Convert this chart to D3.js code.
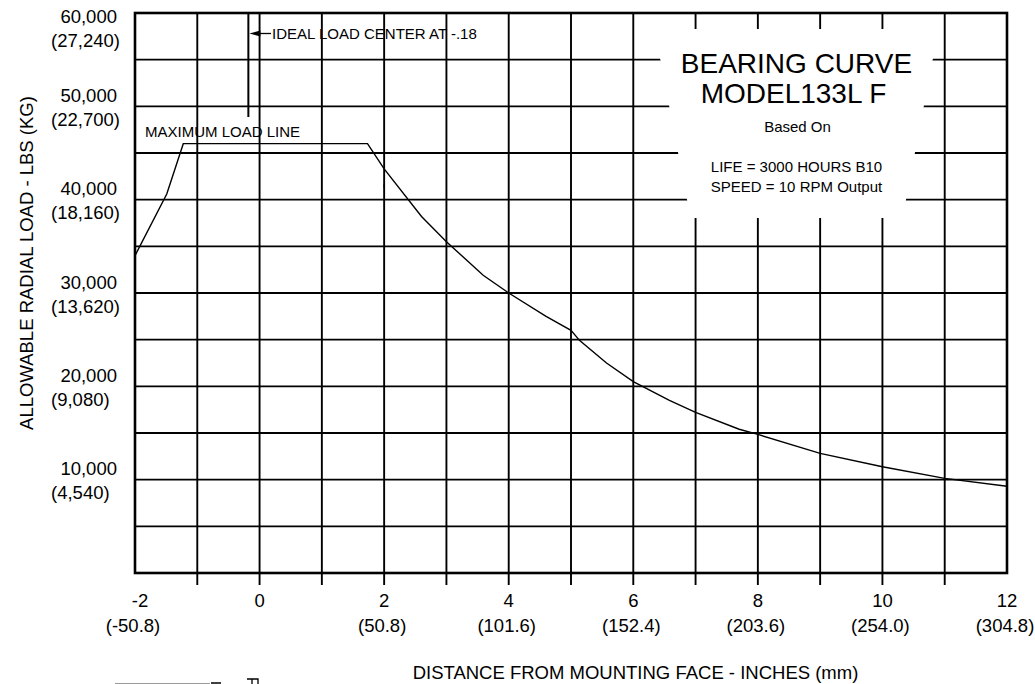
<!DOCTYPE html>
<html>
<head>
<meta charset="utf-8">
<script src="https://cdn.jsdelivr.net/npm/d3@7"></script>
<style>
  html, body { margin: 0; padding: 0; background: #fff; }
  svg { display: block; }
  text { font-family: "Liberation Sans", Arial, sans-serif; fill: #000; }
</style>
</head>
<body>
<svg id="chart" width="1035" height="684"></svg>
<script>
// ---------- data ----------
const curveX = [-2, -1.49, -1.225, 1.733, 2.0, 2.6, 3.0, 3.59, 4.0, 4.6, 5.0, 5.14, 5.57, 6.0, 6.58, 7.0, 7.7, 8.0, 9.0, 10.0, 11.0, 12.0];
const curveY = [34000, 40600, 46000, 46000, 43300, 38200, 35500, 31900, 30000, 27500, 26000, 24900, 22500, 20500, 18500, 17200, 15400, 14850, 12820, 11390, 10140, 9300];

const xGrid = [-1, 0, 1, 2, 3, 4, 5, 6, 7, 8, 9, 10, 11];
const xLabelValues = [-2, 0, 2, 4, 6, 8, 10, 12];
const xLabelText = ["-2", "0", "2", "4", "6", "8", "10", "12"];
const xMmText = ["(-50.8)", "", "(50.8)", "(101.6)", "(152.4)", "(203.6)", "(254.0)", "(304.8)"];

const yGrid = [5000, 10000, 15000, 20000, 25000, 30000, 35000, 40000, 45000, 50000, 55000];
const yLabelValues = [10000, 20000, 30000, 40000, 50000, 60000];
const yLabelText = ["10,000", "20,000", "30,000", "40,000", "50,000", "60,000"];
const yKgText = ["(4,540)", "(9,080)", "(13,620)", "(18,160)", "(22,700)", "(27,240)"];

const idealLoadCenter = -0.18;
const titleLines = ["BEARING CURVE", "MODEL133L F"];
const noteLines = ["Based On", "", "LIFE = 3000 HOURS B10", "SPEED = 10 RPM Output"];

// ---------- layout ----------
const L = 135, R = 1007, T = 13, B = 573;
const svg = d3.select("#chart");
const x = d3.scaleLinear().domain([-2, 12]).range([L, R]);
const y = d3.scaleLinear().domain([0, 60000]).range([B, T]);

// grid
const g = svg.append("g").attr("stroke", "#000").attr("stroke-width", 1.9);
g.selectAll("line.v").data(xGrid).join("line")
  .attr("x1", d => x(d)).attr("x2", d => x(d)).attr("y1", T).attr("y2", B + 12);
g.selectAll("line.h").data(yGrid).join("line")
  .attr("x1", L).attr("x2", R).attr("y1", d => y(d)).attr("y2", d => y(d));

// frame
svg.append("rect").attr("x", L).attr("y", T).attr("width", R - L).attr("height", B - T)
  .attr("fill", "none").attr("stroke", "#000").attr("stroke-width", 2.6);

// white title box (trapezoid) covering the grid
const cx = 796.5;
svg.append("polygon")
  .attr("points", [[cx - 142, 29], [cx + 142, 29], [cx + 106, 218], [cx - 106, 218]].map(p => p.join(",")).join(" "))
  .attr("fill", "#fff");

// title texts
svg.append("text").attr("x", cx).attr("y", 73).attr("text-anchor", "middle")
  .attr("font-size", 28).text(titleLines[0]);
svg.append("text").attr("x", cx - 3).attr("y", 103).attr("text-anchor", "middle")
  .attr("font-size", 28).text(titleLines[1]);
svg.append("text").attr("x", cx + 1).attr("y", 132).attr("text-anchor", "middle")
  .attr("font-size", 15).text(noteLines[0]);
svg.append("text").attr("x", cx).attr("y", 172).attr("text-anchor", "middle")
  .attr("font-size", 15).text(noteLines[2]);
svg.append("text").attr("x", cx).attr("y", 192).attr("text-anchor", "middle")
  .attr("font-size", 15).text(noteLines[3]);

// curve
const pts = curveX.map((v, i) => [v, curveY[i]]);
svg.append("path").datum(pts)
  .attr("d", d3.line().x(d => x(d[0])).y(d => y(d[1])))
  .attr("fill", "none").attr("stroke", "#000").attr("stroke-width", 1.4);

// small stray mark near the curve
svg.append("line").attr("x1", x(2.0)).attr("x2", x(2.0)).attr("y1", y(41700)).attr("y2", y(41250))
  .attr("stroke", "#000").attr("stroke-width", 1.2);

// ideal load center
const xi = x(idealLoadCenter);
svg.append("line").attr("x1", xi).attr("x2", xi).attr("y1", T).attr("y2", 117)
  .attr("stroke", "#000").attr("stroke-width", 2);
svg.append("line").attr("x1", xi + 6).attr("x2", 271).attr("y1", 33.5).attr("y2", 33.5)
  .attr("stroke", "#000").attr("stroke-width", 1.3);
svg.append("polygon")
  .attr("points", `${xi + 1},33.5 ${xi + 12},30.5 ${xi + 12},36.5`).attr("fill", "#000");
svg.append("text").attr("x", 272).attr("y", 39).attr("font-size", 15)
  .text("IDEAL LOAD CENTER AT -.18");

// maximum load line label
svg.append("text").attr("x", 145).attr("y", 136.5).attr("font-size", 15).text("MAXIMUM LOAD LINE");

// x tick labels
const xl = svg.append("g").attr("font-size", 18.5).attr("text-anchor", "middle");
xLabelValues.forEach((v, i) => {
  xl.append("text").attr("x", x(v) + (v === -2 ? 5 : 0)).attr("y", 607).text(xLabelText[i]);
  if (xMmText[i]) xl.append("text").attr("x", x(v) - 2).attr("y", 632).text(xMmText[i]);
});

// y tick labels
const yl = svg.append("g").attr("font-size", 18.5);
yLabelValues.forEach((v, i) => {
  const shift = v === 60000 ? 14 : 0;
  yl.append("text").attr("x", 117).attr("y", y(v) - 4.5 + shift).attr("text-anchor", "end").text(yLabelText[i]);
  yl.append("text").attr("x", 51).attr("y", y(v) + 19.5 + shift).attr("text-anchor", "start").text(yKgText[i]);
});

// axis titles
svg.append("text").attr("transform", "translate(33,263) rotate(-90)")
  .attr("text-anchor", "middle").attr("font-size", 18.5)
  .text("ALLOWABLE RADIAL LOAD - LBS (KG)");
svg.append("text").attr("x", 635.5).attr("y", 679).attr("text-anchor", "middle")
  .attr("font-size", 18.5).text("DISTANCE FROM MOUNTING FACE - INCHES (mm)");

// cropped fragment at the bottom-left edge
svg.append("line").attr("x1", 115).attr("x2", 210).attr("y1", 683.5).attr("y2", 683.5)
  .attr("stroke", "#999").attr("stroke-width", 1);
svg.append("line").attr("x1", 211).attr("x2", 221).attr("y1", 683).attr("y2", 683)
  .attr("stroke", "#000").attr("stroke-width", 1.5);
svg.append("path").attr("d", "M247,679 H258 V684 M252,679 V684")
  .attr("fill", "none").attr("stroke", "#000").attr("stroke-width", 1.3);
</script>
</body>
</html>
